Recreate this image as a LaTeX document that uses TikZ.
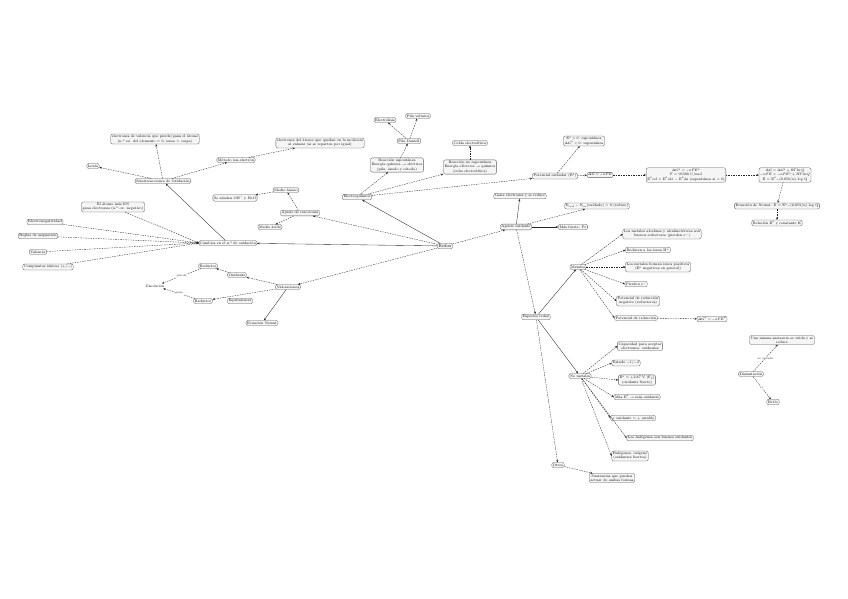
\documentclass[tikz,border=0pt]{standalone}
\usetikzlibrary{arrows.meta}
\begin{document}
\begin{tikzpicture}[x=1pt,y=-1pt,
  every node/.style={font=\fontsize{7.2}{8.4}\selectfont,align=center,inner sep=2.4pt,scale=0.5},
  b/.style={draw=black!65,rounded corners=2pt,fill=black!4,line width=0.3pt},
  t/.style={font=\fontsize{6}{7}\selectfont,fill=white,inner sep=0.6pt},
  a/.style={-{Stealth[length=2.5pt,width=2pt]},line width=0.35pt,black!85},
  d/.style={a,dash pattern=on 1.5pt off 1pt},
  s/.style={a}]
\useasboundingbox (0,0) rectangle (848,599);
% center
\node[b,font=\fontsize{9}{10}\selectfont] (R) at (445,246) {Redox};
% left
\node[b] (NO) at (228,243) {Cambios en el n.º de oxidación};
\node[b] (en) at (45,222) {Electronegatividad};
\node[b] (re) at (38,236) {Reglas de asignación};
\node[b] (va) at (38,252) {Valencia};
\node[b] (ci) at (48,267) {Compuestos iónicos (+/−)};
\node[b] (am) at (113,207) {El átomo más EN\\gana electrones (n.º ox. negativo)};
\node[b] (SO) at (163,181) {Semirreacciones de Oxidación};
\node[b] (lw) at (93,166) {Lewis};
\node[b] (tb) at (155,139) {electrones de valencia que pierde/gana el átomo\\(n.º ox. del elemento = 0, iones = carga)};
\node[b] (ie) at (236,160) {Método ion-electrón};
\node[b] (pr) at (320,143) {electrones del átomo que quedan en la molécula\\al enlazar (si se reparten por igual)};
\node[b] (aj) at (300,213) {Ajuste de reacciones};
\node[b] (mb) at (286,190) {Medio básico};
\node[b] (ma) at (270,227) {Medio ácido};
\node[b] (oh) at (235,198) {Se añaden OH$^-$ y H$_2$O};
\node[b] (ti) at (288,287) {Valoraciones};
\node[b] (ox) at (237,275) {Oxidante};
\node[b] (rd) at (208,266) {Reductor};
\node (ds) at (155,286) {Disolución};
\node[b] (re2) at (203,301) {Reductor};
\node[b] (eq) at (240,301) {Equivalencia};
\node[b] (en2) at (262,323) {Ecuación Nernst};
% top
\node[b] (EQ) at (357,197) {Electroquímica};
\node[b] (p1) at (397,165) {Reacción espontánea\\Energía química $\to$ eléctrica\\(pila, ánodo y cátodo)};
\node[b] (p2) at (470,167) {Reacción no espontánea\\Energía eléctrica $\to$ química\\(cuba electrolítica)};
\node[b] (pd) at (409,141) {Pila Daniell};
\node[b] (el) at (385,120) {Electrólisis};
\node[b] (pv) at (418,116) {Pila voltaica};
\node[b] (ce) at (470,143) {Celda electrolítica};
\node[b] (PE) at (555,176) {Potencial estándar (E$^\circ$)};
\node[b] (e0) at (584,141) {E$^\circ > 0$: espontánea\\$\Delta G^\circ < 0$: espontánea};
\node[b] (dg) at (600,175) {$\Delta G=-nFE$};
\node[b] (bg) at (686,175) {$\Delta G^\circ = -nFE^\circ$\\F = 96500 C/mol\\E$^\circ$cel = E$^\circ$cát $-$ E$^\circ$án (espontánea si $>0$)};
\node[b] (nr) at (785,175) {$\Delta G=\Delta G^\circ+RT\ln Q$\\$-nFE=-nFE^\circ+RT\ln Q$\\E $=$ E$^\circ-$(0,059/n) log Q};
\node[b] (ne) at (777,206) {Ecuación de Nernst: E = E$^\circ-$(0,059/n) log Q};
\node[b] (rl) at (777,223) {Relación E$^\circ$ y constante K};
% right
\node[b] (AO) at (516,227) {Agente oxidante};
\node[b] (ge) at (520,196) {Gana electrones y se reduce};
\node[b] (eo) at (597,206) {E$_{red}$ $-$ E$_{ox}$(oxidado) $>$ 0 (reduce)};
\node[b] (mf) at (573,227) {Más fuerte: F$_2$};
\node[b] (ER) at (536,317) {Especies redox};
\node[b] (ME) at (578,267) {Metales};
\node[b] (m1) at (662,234) {Los metales alcalinos y alcalinotérreos son\\buenos reductores (pierden e$^-$)};
\node[b] (m2) at (648,250) {Reducen a los iones H$^+$};
\node[b] (m3) at (658,267) {Los metales forman iones positivos\\(E$^\circ$ negativos en general)};
\node[b] (m4) at (636,284) {Pierden e$^-$};
\node[b] (m5) at (638,301) {Potencial de reducción\\negativo (reductores)};
\node[b] (m6) at (636,318) {Potencial de reducción};
\node[b] (m7) at (712,319) {$\Delta G^\circ = -nFE^\circ$};
\node[b] (NM) at (580,376) {No metales};
\node[b] (n1) at (640,346) {Capacidad para aceptar\\electrones: oxidantes};
\node[b] (n2) at (626,363) {Estado $-1$/$-2$};
\node[b] (n3) at (637,380) {E$^\circ$ = +2,87 V (F$_2$)\\(oxidante fuerte)};
\node[b] (n4) at (637,397) {Más E$^\circ$ $\to$ más oxidante};
\node[b] (n5) at (633,418) {+ oxidante = + estable};
\node[b] (n6) at (660,438) {Los halógenos son buenos oxidantes};
\node[b] (n7) at (630,456) {Halógenos, oxígeno\\(oxidantes fuertes)};
\node[b] (OT) at (558,465) {Otros};
\node[b] (o1) at (612,478) {Sustancias que pueden\\actuar de ambas formas};
\node[b] (DI) at (751,374) {Dismutación};
\node[b] (d1) at (782,340) {Una misma sustancia se oxida y se\\reduce};
\node[b] (d2) at (773,402) {H$_2$O$_2$};
% edges
\draw[s] (R) -- (NO);
\foreach \n in {en,re,va,ci,am} \draw[d] (\n) -- (NO.west);
\draw[s] (NO) -- (SO);
\draw[d] (SO) -- (lw); \draw[d] (SO) -- (tb); \draw[d] (SO) -- (ie); \draw[d] (ie) -- (pr);
\draw[d] (R) -- (aj); \draw[d] (aj) -- (mb); \draw[d] (aj) -- (ma); \draw[d] (mb) -- (oh);
\draw[d] (R) -- (ti); \draw[d] (ti) -- (ox); \draw[d] (ti) -- (re2); \draw[s] (ti) -- (en2);
\draw[d] (ox) -- (rd); \draw[d] (rd) -- node[t]{pierde} (ds); \draw[d] (re2) -- node[t]{gana} (ds);
\draw[s] (R) -- (EQ);
\draw[d] (EQ) -- (p1); \draw[d] (EQ) -- (p2); \draw[d] (EQ) -- (PE);
\draw[d] (p1) -- (pd); \draw[d] (pd) -- (el); \draw[d] (pd) -- (pv); \draw[d] (p2) -- (ce);
\draw[d] (PE) -- (e0); \draw[d] (PE) -- (dg); \draw[d] (dg) -- (bg); \draw[d] (bg) -- (nr);
\draw[d] (nr) -- (ne); \draw[d] (ne) -- (rl);
\draw[d] (R) -- (AO); \draw[s] (AO) -- (ge); \draw[d] (AO) -- (eo); \draw[s] (AO) -- (mf);
\draw[d] (AO) -- (ER);
\draw[s] (ER) -- (ME); \draw[s] (ER) -- (NM); \draw[d] (ER) -- (OT);
\foreach \n in {m1,m2,m3,m4,m5,m6} \draw[d] (ME) -- (\n.west);
\draw[d] (m6) -- (m7);
\foreach \n in {n1,n2,n3,n4,n5,n6,n7} \draw[d] (NM) -- (\n.west);
\draw[d] (OT) -- (o1);
\draw[d] (DI) -- node[t]{es cuando} (d1); \draw[d] (DI) -- node[t]{ej.} (d2);
\end{tikzpicture}
\end{document}
